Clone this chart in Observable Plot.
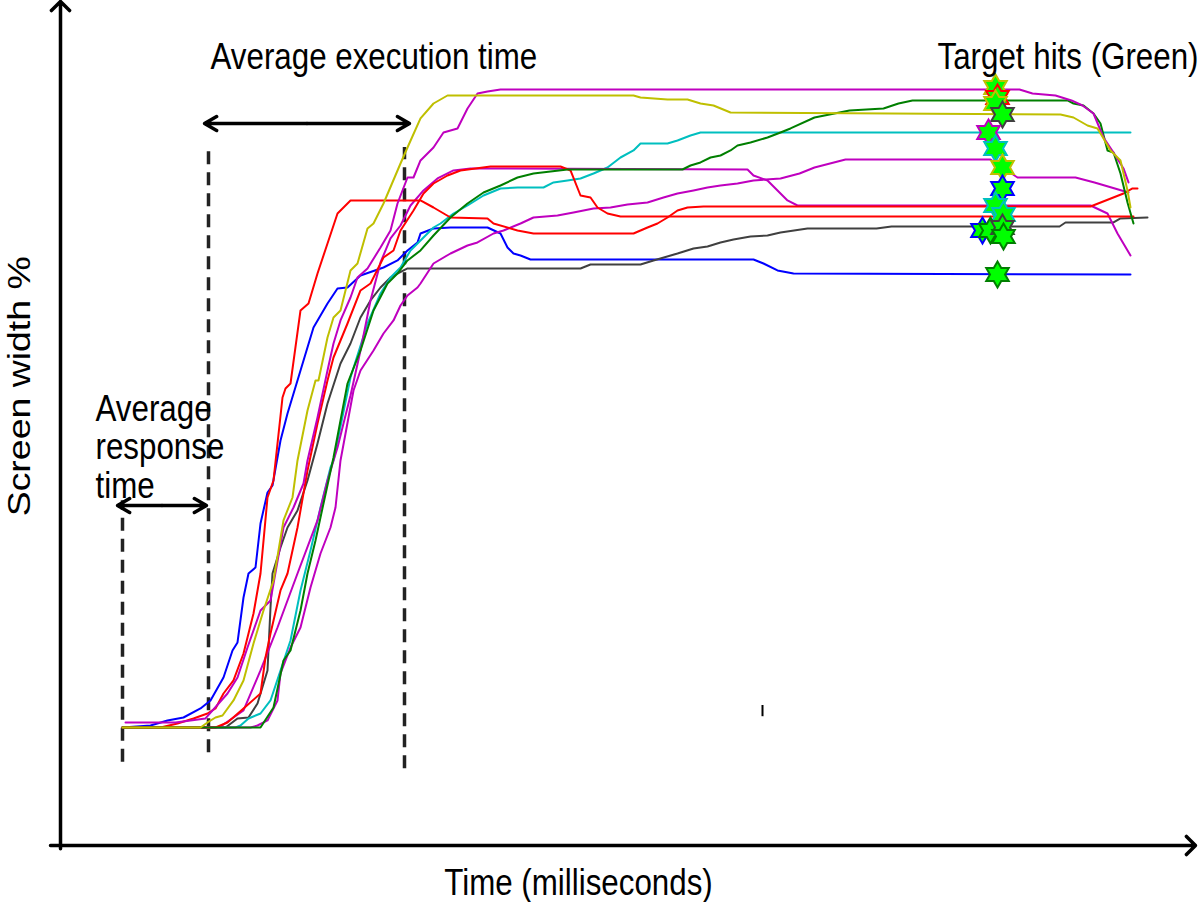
<!DOCTYPE html>
<html><head><meta charset="utf-8">
<script src="https://cdn.jsdelivr.net/npm/d3@7"></script>
<script src="https://cdn.jsdelivr.net/npm/@observablehq/plot@0.6"></script>
<style>body{margin:0;background:#fff;} svg{display:block;}</style>
</head><body><div id="chart"></div>
<script>
// ---- data: time (ms, arbitrary units) vs screen width % ----
const blueTrial = [[62,14.75],[90,15],[107,15.63],[123,16],[140,17.13],[150,18.13],[163,21],[172,24.38],[177,25.38],[183,31],[188,34],[195,34.75],[200,40.25],[207,44.13],[212,45],[220,50.63],[227,54],[240,59.38],[253,64.75],[267,67.75],[277,69.63],[287,69.75],[300,71.25],[323,72.25],[337,73.13],[347,74.38],[357,75.38],[360,76.5],[373,77.13],[390,77.25],[427,77.25],[440,76.5],[447,74.75],[453,74],[460,73.75],[470,73.25],[693,73.25],[703,72.75],[717,71.88],[733,71.5],[1070,71.38]];
const redTrialA = [[62,14.75],[100,14.75],[117,15.25],[133,15.88],[147,16.5],[155,17.13],[163,19],[173,20.63],[183,24],[193,29],[200,34],[207,43.5],[213,45.63],[222,56],[225,57.13],[230,57.75],[240,66.88],[248,67.75],[257,71.5],[267,75.25],[277,79],[290,80.63],[360,80.63],[373,79.75],[390,78.5],[427,78.38],[433,77.75],[457,76.88],[473,76.5],[573,76.5],[587,77.25],[597,77.75],[607,78.5],[617,79.38],[627,79.75],[643,79.88],[1030,79.88],[1063,81.5],[1072,82.13],[1077,82.13]];
const redTrialB = [[62,14.75],[155,14.75],[167,15.38],[183,17.13],[200,19],[205,23.5],[210,26.5],[220,31.88],[227,34],[237,39.75],[247,46.88],[257,52.75],[267,58.13],[273,61],[287,65.25],[300,69.38],[310,70.25],[323,73.5],[333,74.38],[340,76.88],[353,79.38],[363,81.5],[373,82.75],[387,83.75],[400,84.38],[430,84.88],[500,84.88],[510,84.38],[520,81.25],[530,81],[537,79.75],[547,79],[560,78.63],[1073,78.63]];
const yellowTrial = [[62,14.75],[140,14.75],[147,15.38],[155,16],[162,16.25],[173,18.13],[183,20.63],[193,25.25],[203,29.38],[213,33.13],[223,40.63],[232,43.5],[237,48.13],[247,54.38],[255,58.13],[258,58.13],[267,63.5],[273,66],[280,66.88],[290,71.88],[297,72.75],[307,77.13],[313,77.75],[323,80.25],[340,85.25],[347,87.25],[360,90.88],[373,92.75],[387,93.75],[573,93.75],[580,93.5],[607,93.25],[627,93.25],[640,92.75],[653,92.5],[670,91.63],[1000,91.38],[1013,91],[1027,90],[1037,89.63],[1043,88.38],[1050,86.88],[1060,85.63],[1067,81.88],[1070,79.75]];
const magentaTrialA = [[65,15.38],[115,15.38],[145,15.88],[167,19],[177,21],[187,24.75],[200,29.38],[210,30.63],[223,39.75],[233,42.25],[243,45.25],[247,48.13],[257,53.5],[267,59.38],[273,62.75],[280,65.63],[290,68.5],[297,71],[307,72.13],[320,74.75],[330,76.88],[337,80.25],[347,83.5],[353,83.5],[360,85.63],[373,87.25],[383,89.13],[397,89.63],[407,92.13],[417,94],[427,94.25],[440,94.5],[959,94.5],[972,94],[995,93.75],[1011,93.13],[1022,92.5],[1033,91.5],[1043,88.5],[1053,86.63],[1063,84.63],[1068,82.88]];
const magentaTrialB = [[62,14.75],[155,14.75],[160,14.88],[183,16.88],[200,21.88],[217,27.25],[237,34],[257,40.63],[267,45.63],[277,49.75],[290,56.25],[300,61.88],[310,68.13],[320,72.88],[330,75.88],[340,77.5],[350,80],[363,81.88],[377,83.38],[393,84.38],[410,84.63],[687,84.5],[693,83.75],[707,83.13],[717,81.88],[727,80.63],[737,80],[1030,80],[1047,79],[1057,76.5],[1070,73.75]];
const magentaTrialC = [[62,14.75],[190,14.75],[197,15],[207,15.63],[217,18.13],[220,21.5],[230,24.75],[240,27.25],[250,32.25],[260,36.5],[270,39.75],[275,42.25],[280,48.13],[293,56.88],[300,59.38],[313,61.88],[323,64],[333,65.63],[340,67.5],[347,68.75],[357,69.75],[360,70.25],[373,72.75],[390,74],[407,75],[417,75.38],[433,76.5],[443,76.88],[460,77.75],[473,78.5],[497,78.75],[513,79.13],[533,79.63],[550,79.75],[567,80.13],[587,80.38],[603,81],[617,81.5],[633,81.88],[647,82.25],[660,82.5],[677,82.75],[693,83.13],[720,83.38],[739,84],[754,84.75],[785,85.75],[930,85.75],[957,83.5],[1015,83.5],[1034,82.88],[1068,81.63]];
const cyanTrial = [[62,14.75],[175,14.75],[180,15],[188,15.88],[200,16.5],[210,18.13],[220,21.88],[230,25.63],[240,31.88],[250,36.88],[260,42.25],[270,47.25],[273,48.13],[290,58.5],[307,65.25],[320,69],[330,71],[340,72.25],[350,74.38],[360,75.63],[373,77.25],[380,77.75],[393,79],[407,80],[423,81.25],[440,82.13],[457,82.25],[483,82.25],[493,82.88],[507,83.13],[520,83.38],[533,84],[547,84.75],[560,86],[573,86.88],[580,87.75],[607,87.75],[617,88.13],[630,88.75],[640,89.13],[1070,89.13]];
const greenTrial = [[62,14.75],[200,14.75],[213,17.25],[223,23.13],[230,24.38],[240,29.38],[247,34],[255,38.13],[263,42.75],[273,48.5],[287,57.75],[300,61.88],[313,66.88],[327,70.25],[337,71.5],[347,73.13],[360,74.38],[373,76.25],[390,78.5],[407,80.25],[423,81.63],[440,82.5],[457,83.5],[473,84],[507,84.5],[622,84.5],[630,85],[640,85.38],[650,86],[660,86.25],[670,86.88],[677,87.5],[690,87.88],[707,88.5],[720,89.13],[730,89.63],[754,91],[789,91.88],[823,92.13],[838,92.75],[852,93.13],[1007,93.13],[1013,92.75],[1023,92.5],[1033,91.5],[1040,90.25],[1047,86.88],[1053,86.63],[1060,84],[1067,80.38],[1073,77.75]];
const grayTrial = [[62,14.75],[165,14.75],[177,15.88],[188,16],[197,17.75],[207,21.88],[210,29.75],[212,34],[220,37.25],[227,39.75],[237,41.88],[247,45.63],[257,50.25],[267,55.25],[280,60.25],[290,62.75],[300,66],[310,68.13],[320,69.75],[330,71],[337,71.5],[347,72.13],[520,72.13],[530,72.63],[580,72.63],[593,73.13],[617,74],[633,74.63],[647,74.88],[660,75.38],[673,75.75],[690,76.13],[707,76.25],[720,76.63],[747,77.13],[816,77.13],[831,77.38],[999,77.38],[1005,77.88],[1053,77.88],[1060,78.38],[1087,78.5]];

// target hits: [time, width %, trial]
const targetHits = [[935,94.75,"yellow"],[937,93.5,"red"],[935,92.75,"yellow"],[942,91.38,"gray"],[928,89.13,"magenta"],[935,87.13,"cyan"],[942,84.75,"yellow"],[942,82.13,"blue"],[935,80,"cyan"],[943,78.88,"cyan"],[922,76.88,"blue"],[930,76.88,"green"],[942,77.25,"gray"],[943,76.13,"green"],[937,71.38,"green"]];

// annotation values (data units)
const dashedTimes = [62, 148, 344];
const dashedFrom = [10.4, 11.6, 9.6];
const dashedTo = [43.1, 86.9, 87.25];
const spans = [{from:144, to:349, at:90.25}, {from:57, to:146, at:42.5}];
const startLabels = [
  {t:150, p:98.56, text:"Average execution time"},
  {t:877, p:98.56, text:"Target hits (Green)"},
  {t:35, p:49.81, text:"Average\nresponse\ntime"}
];
const middleLabels = [
  {t:518, p:-4.75, text:"Time (milliseconds)"}
];
const yLabel = {t:-41, p:57.4, text:"Screen width %"};

// ---- styles ----
const colors = {blue:"#0000ff", red:"#ff0000", yellow:"#bfbf00", magenta:"#bf00bf", cyan:"#00bfbf", green:"#007f00", gray:"#404040"};
const trials = [
  {pts: blueTrial, c: colors.blue},
  {pts: grayTrial, c: colors.gray},
  {pts: cyanTrial, c: colors.cyan},
  {pts: magentaTrialC, c: colors.magenta},
  {pts: magentaTrialB, c: colors.magenta},
  {pts: redTrialB, c: colors.red},
  {pts: redTrialA, c: colors.red},
  {pts: greenTrial, c: colors.green},
  {pts: magentaTrialA, c: colors.magenta},
  {pts: yellowTrial, c: colors.yellow}
];

const hexagram = {
  draw(ctx, size) {
    const R = Math.sqrt(size / Math.PI), r = R / Math.sqrt(3);
    for (let i = 0; i < 12; i++) {
      const a = -Math.PI / 2 + i * Math.PI / 6, rr = i % 2 ? r : R;
      const x = rr * Math.cos(a), y = rr * Math.sin(a);
      i ? ctx.lineTo(x, y) : ctx.moveTo(x, y);
    }
    ctx.closePath();
  }
};

const dashedData = dashedTimes.map((t, i) => ({t, a: dashedFrom[i], b: dashedTo[i]}));
const arrowData = spans.flatMap(s => [
  {x1:(s.from+s.to)/2, x2:s.from, y:s.at},
  {x1:(s.from+s.to)/2, x2:s.to, y:s.at}
]);
const hitData = targetHits.map(([t, p, k]) => ({t, p, c: colors[k]}));

const marks = [];
// axes with arrow heads
marks.push(Plot.arrow([{x1:0, y1:-0.4, x2:0, y2:105.5}], {x1:"x1", y1:"y1", x2:"x2", y2:"y2", stroke:"#000", strokeWidth:3.5, headAngle:90, headLength:5.5}));
marks.push(Plot.arrow([{x1:-10, y1:0, x2:1135, y2:0}], {x1:"x1", y1:"y1", x2:"x2", y2:"y2", stroke:"#000", strokeWidth:3.5, headAngle:90, headLength:5.5}));
// dashed guides
marks.push(Plot.ruleX(dashedData, {x:"t", y1:"a", y2:"b", stroke:"#222", strokeWidth:3.5, strokeDasharray:"13,8"}));
// trials
for (const tr of trials) {
  marks.push(Plot.line(tr.pts, {x: d => d[0], y: d => d[1], stroke: tr.c, strokeWidth: 2}));
}
// double arrows
marks.push(Plot.arrow(arrowData, {x1:"x1", x2:"x2", y1:"y", y2:"y", stroke:"#000", strokeWidth:3.5, headAngle:60, headLength:6}));
// small tick
marks.push(Plot.ruleX([702], {y1:16.1, y2:17.5, stroke:"#000", strokeWidth:2}));
// target hits
marks.push(Plot.dot(hitData, {x:"t", y:"p", r:13, symbol: hexagram, fill:"#00ff00", stroke:"c", strokeWidth:2}));
// labels
marks.push(Plot.text(startLabels, {x:"t", y:"p", text:"text", textAnchor:"start", fontSize:36, lineHeight:1.07, fill:"#000", lineAnchor:"middle"}));
marks.push(Plot.text(middleLabels, {x:"t", y:"p", text:"text", textAnchor:"middle", fontSize:36, fill:"#000", lineAnchor:"middle"}));
marks.push(Plot.text([yLabel], {x:"t", y:"p", text:"text", rotate:-90, fontSize:32, fill:"#000", lineAnchor:"middle", textAnchor:"middle"}));

const svg = Plot.plot({
  width: 1200, height: 902,
  marginLeft: 60, marginRight: 0, marginTop: 1, marginBottom: 57,
  x: {domain: [0, 1140], axis: null},
  y: {domain: [0, 105.5], axis: null},
  color: {type: "identity"},
  style: {fontFamily: "'Liberation Sans', Arial, Helvetica, sans-serif", background: "#fff", overflow: "visible"},
  marks
});

// Text in the reference is drawn narrower (horizontal) / longer (vertical label)
d3.select(svg).selectAll("text").each(function() {
  const s = this.textContent === "Screen width %" ? "scale(1.17,1)" : "scale(0.87,1)";
  const tr = this.getAttribute("transform");
  if (tr) {
    this.setAttribute("transform", tr + " " + s);
  } else {
    const x = +this.getAttribute("x") || 0, y = +this.getAttribute("y") || 0;
    this.removeAttribute("x"); this.removeAttribute("y");
    this.setAttribute("transform", `translate(${x},${y}) ${s}`);
  }
});
document.getElementById("chart").appendChild(svg);
</script>
</body></html>
